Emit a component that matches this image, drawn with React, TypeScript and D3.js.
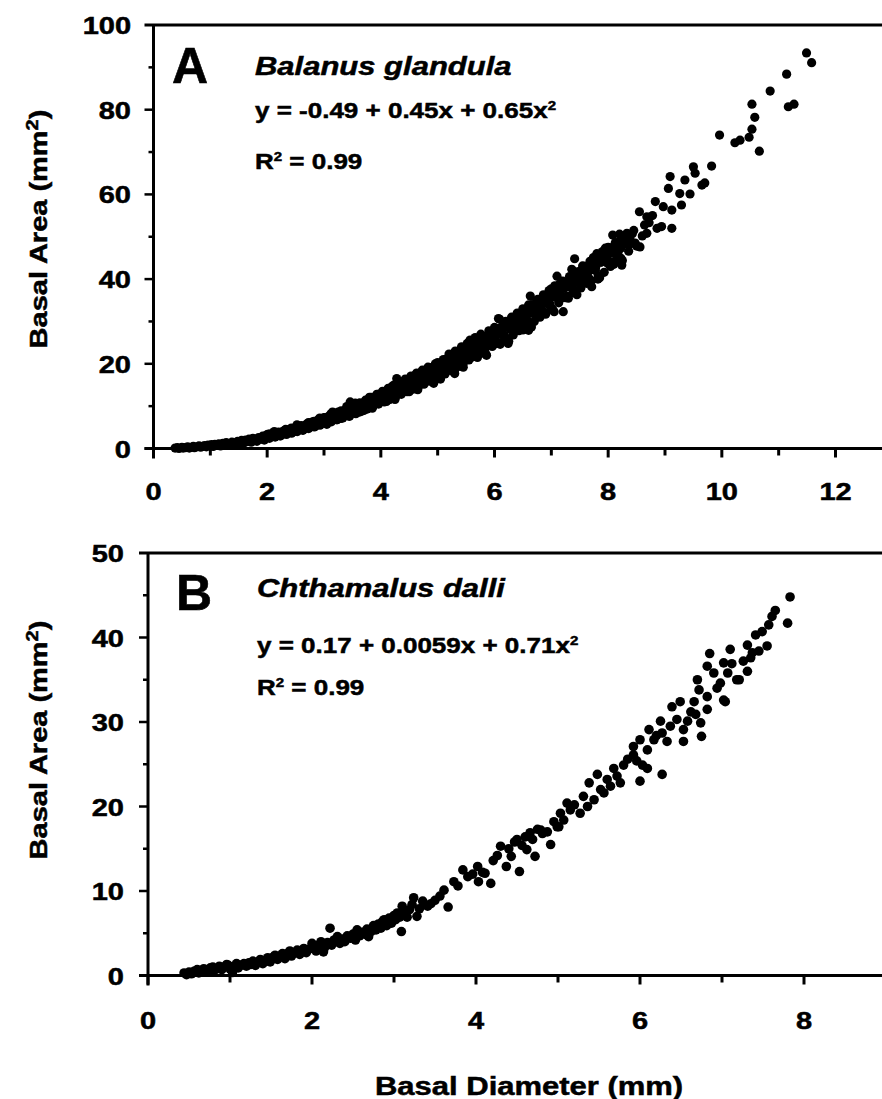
import React from 'react';
import * as d3 from 'd3';

// Balanus glandula: basal diameter (mm), basal area (mm2)
const balanusPoints: [number, number][] = [
  [0.38,0.1],[0.42,0.2],[0.45,0.0],[0.5,0.3],[0.52,0.1],[0.56,0.2],[0.6,0.4],[0.63,0.1],[0.66,0.3],[0.7,0.5],
  [0.72,0.2],[0.76,0.4],[0.8,0.6],[0.83,0.3],[0.86,0.5],[0.9,0.7],[0.93,0.4],[0.96,0.8],[1.0,0.6],[1.02,0.9],
  [1.05,0.5],[1.08,1.0],[1.12,0.8],[1.15,1.1],[1.18,0.6],[1.22,1.2],[1.25,0.9],[1.28,1.4],[1.32,1.1],[1.35,0.8],
  [1.38,1.5],[1.42,1.3],[1.45,1.0],[1.48,1.7],[1.52,1.4],[1.55,1.9],[1.58,1.2],[1.62,2.0],[1.65,1.6],[1.68,2.2],
  [1.72,1.5],[1.75,2.4],[1.78,2.0],[1.82,1.7],[1.85,2.6],[1.88,2.2],[1.92,2.9],[1.95,2.0],[1.98,2.6],[2.0,3.3],
  [2.04,2.4],[2.07,3.0],[2.1,3.6],[2.14,2.7],[2.17,3.3],[2.2,3.9],[2.24,3.0],[2.27,3.6],[2.3,4.2],[2.34,3.3],
  [2.37,4.0],[2.4,4.6],[2.43,3.6],[2.46,4.3],[2.5,5.0],[2.53,4.0],[2.56,4.7],[2.6,5.4],[2.63,4.3],[2.66,5.1],
  [2.7,5.8],[2.73,4.7],[2.76,5.5],[2.8,6.3],[2.83,5.1],[2.86,6.0],[2.9,6.8],[2.93,5.5],[2.96,6.4],[3.0,7.3],
  [3.03,5.9],[3.06,6.9],[3.1,7.8],[3.13,6.3],[3.16,7.3],[3.2,8.3],[3.23,6.8],[3.26,7.8],[3.3,8.9],[3.33,7.2],
  [3.36,8.4],[3.4,9.5],[3.43,7.7],[3.46,11.0],[3.5,9.0],[3.53,10.1],[3.56,8.2],[3.6,9.6],[3.63,10.8],[3.66,8.8],
  [3.7,10.2],[3.73,11.4],[3.76,9.3],[3.8,10.8],[3.83,12.1],[3.86,9.9],[3.9,11.4],[3.93,12.8],[3.96,10.5],[4.0,12.0],
  [4.03,13.5],[4.06,11.0],[4.1,12.6],[4.13,14.2],[4.16,11.6],[4.2,13.3],[4.23,15.0],[4.26,12.2],[4.28,16.5],[4.3,14.0],
  [4.33,15.7],[4.36,12.8],[4.4,14.6],[4.43,16.4],[4.46,13.4],[4.5,15.3],[4.53,17.1],[4.56,14.0],[4.6,16.0],[4.63,17.8],
  [4.66,14.6],[4.7,16.7],[4.73,18.5],[4.76,15.2],[4.8,17.4],[4.83,19.2],[4.86,15.9],[4.9,18.1],[4.93,15.4],[4.96,20.0],
  [5.0,18.0],[5.03,16.9],[5.06,19.5],[5.1,21.0],[5.13,17.6],[5.16,20.2],[5.2,22.3],[5.23,18.4],[5.26,21.0],[5.3,17.7],
  [5.31,23.0],[5.35,19.3],[5.38,21.9],[5.42,24.0],[5.45,20.1],[5.48,22.8],[5.52,24.8],[5.55,20.9],[5.57,25.6],[5.6,23.6],
  [5.63,21.7],[5.66,26.2],[5.7,24.4],[5.73,22.5],[5.76,27.0],[5.8,25.2],[5.83,23.3],[5.86,22.0],[5.9,27.8],[5.93,26.1],
  [5.96,24.1],[6.0,28.6],[6.03,26.9],[6.07,30.7],[6.09,30.5],[6.1,24.9],[6.13,27.8],[6.17,29.6],[6.2,25.8],[6.24,24.8],
  [6.27,28.7],[6.3,31.0],[6.33,26.8],[6.37,29.6],[6.4,32.0],[6.43,27.8],[6.47,30.5],[6.5,33.0],[6.53,28.8],[6.57,31.5],
  [6.6,27.9],[6.63,36.0],[6.66,34.0],[6.7,30.0],[6.73,32.6],[6.76,35.2],[6.8,31.0],[6.83,33.7],[6.86,36.3],[6.9,32.1],
  [6.93,34.8],[6.96,37.3],[7.0,33.2],[7.03,35.9],[7.06,38.4],[7.1,40.7],[7.13,34.4],[7.16,37.0],[7.2,39.5],[7.21,32.3],
  [7.25,35.6],[7.28,38.2],[7.32,40.6],[7.36,42.3],[7.38,36.8],[7.41,44.8],[7.44,39.4],[7.48,41.8],[7.52,37.9],[7.55,40.6],
  [7.58,43.0],[7.62,39.0],[7.65,41.7],[7.68,44.2],[7.71,38.2],[7.74,45.1],[7.78,42.8],[7.82,40.0],[7.86,44.0],[7.9,46.5],
  [7.93,41.6],[7.96,45.2],[8.0,47.5],[8.04,43.0],[8.08,50.4],[8.12,46.0],[8.15,48.4],[8.18,44.2],[8.22,47.3],[8.24,43.3],
  [8.28,49.5],[8.33,50.8],[8.36,46.6],[8.4,48.9],[8.45,51.5],[8.5,47.8],[8.55,55.9],[8.56,47.6],[8.6,50.2],[8.64,52.8],
  [8.68,54.7],[8.68,50.8],[8.72,53.3],[8.78,55.0],[8.83,58.3],[8.86,52.0],[8.94,52.4],[8.97,57.1],[9.06,61.4],[9.09,64.2],
  [9.12,56.3],[9.12,52.0],[9.26,60.2],[9.29,57.5],[9.35,63.4],[9.44,60.1],[9.5,66.5],[9.53,65.0],[9.65,62.2],[9.7,62.7],
  [9.82,66.7],[9.96,74.0],[10.23,72.2],[10.32,72.8],[10.48,73.5],[10.53,75.4],[10.53,81.3],[10.58,78.2],[10.66,70.2],[10.85,84.4],
  [11.14,88.4],[11.17,80.7],[11.27,81.3],[11.49,93.4],[11.58,91.1],
  [2.02,2.8],[2.12,3.2],[2.22,3.5],[2.32,3.8],[2.42,4.1],[2.52,4.5],[2.62,4.9],[2.72,5.3],[2.82,5.7],[2.92,6.2],
  [3.02,6.6],[3.12,7.1],[3.22,7.5],[3.32,8.0],[3.42,8.6],[3.52,9.2],[3.62,9.7],[3.72,10.4],[3.82,11.0],[3.92,11.6],
  [4.02,12.3],[4.08,12.9],[4.15,13.4],[4.22,13.9],[4.29,14.5],[4.35,15.0],[4.42,15.4],[4.48,16.1],[4.55,16.4],[4.62,17.1],
  [4.68,17.5],[4.75,18.0],[4.82,18.6],[4.88,19.1],[4.95,19.0],[5.02,19.7],[5.08,20.3],[5.15,20.8],[5.22,21.3],[5.28,22.0],
  [5.35,22.4],[5.42,22.1],[5.48,23.7],[5.55,23.4],[5.62,24.5],[5.68,25.0],[5.75,25.3],[5.82,26.3],[5.88,26.7],[5.95,27.3],
  [6.02,27.8],[6.08,28.4],[6.15,28.9],[6.22,29.8],[6.28,30.1],[6.35,30.9],[6.42,31.2],[6.48,32.2],[6.55,32.5],[6.62,33.4],
  [6.68,33.0],[6.75,34.7],[6.82,35.1],[6.88,35.6],[6.95,36.2],[7.02,36.9],[7.08,37.2],[7.15,38.2],[7.22,38.4],[7.3,39.5],
  [7.37,40.1],[7.45,41.0],[7.52,41.9],[7.6,42.2],[7.67,43.2],[7.75,43.6],[7.83,45.1],[7.92,44.4],[8.0,45.8],[8.1,47.6],
  [8.2,48.9],
  [2.05,3.4],[2.15,2.9],[2.25,3.8],[2.35,4.3],[2.45,3.9],[2.55,5.1],[2.65,4.6],[2.75,6.0],[2.85,5.3],[2.95,6.9],
  [3.05,5.7],[3.1,7.4],[3.15,8.6],[3.2,7.2],[3.25,8.6],[3.3,7.1],[3.35,8.3],[3.4,9.9],[3.45,7.6],[3.5,9.3],
  [3.55,10.7],[3.6,9.0],[3.65,10.6],[3.7,9.0],[3.75,10.3],[3.8,12.1],[3.85,9.5],[3.9,11.4],[3.95,12.8],[4.0,11.1],
  [4.05,13.0],[4.1,11.1],[4.15,12.6],[4.2,14.7],[4.25,11.6],[4.3,13.9],[4.35,15.4],[4.4,13.5],[4.45,15.4],[4.5,13.4],
  [4.55,15.0],[4.6,17.3],[4.65,13.9],[4.7,16.4],[4.75,18.1],[4.8,16.0],[4.85,18.1],[4.9,16.0],[4.95,17.7],[5.0,20.3],
  [5.05,16.4],[5.1,19.2],[5.15,21.1],[5.2,18.7],[5.25,21.1],[5.3,18.6],[5.35,20.5],[5.4,23.2],[5.45,19.2],[5.5,22.2],
  [5.55,24.2],[5.6,21.6],[5.65,24.2],[5.7,21.5],[5.75,23.6],[5.8,26.5],[5.85,22.2],[5.9,25.4],[5.95,27.4],[6.0,24.7],
  [6.05,27.5],[6.1,24.6],[6.15,26.8],[6.2,30.0],[6.25,25.3],[6.3,28.7],[6.35,31.0],[6.4,28.1],[6.45,31.0],[6.5,28.0],
  [6.55,30.4],[6.6,33.9],[6.65,28.7],[6.7,32.5],[6.75,34.9],[6.8,31.7],[6.85,34.9],[6.9,31.7],[6.95,34.1],[7.0,37.7],
  [7.05,32.3],[7.1,36.3],[7.15,38.9],[7.2,35.6],[7.25,38.9],[7.3,35.5],[7.35,38.1],[7.4,41.8],[7.45,36.3],[7.5,40.3],
  [7.55,43.1],[7.6,39.5],[7.65,43.0],[7.7,39.5],[7.75,42.2],[7.8,46.0],[7.85,40.3],[7.9,44.5],[7.95,47.3],[8.0,43.6],
  [8.05,47.4],[8.1,43.5],[8.15,46.5],[8.2,50.6],[8.25,44.4],[8.3,48.9],
  [2.025,3.4],[2.075,2.8],[2.125,4.0],[2.175,3.4],[2.225,3.0],[2.275,4.0],[2.325,4.5],[2.375,4.0],[2.425,4.8],[2.475,4.1],
  [2.525,5.6],[2.575,4.9],[2.625,4.4],[2.675,5.5],[2.725,6.1],[2.775,5.5],[2.825,6.4],[2.875,5.7],[2.925,7.2],[2.975,6.5],
  [3.025,7.3],[3.075,6.4],[3.125,8.2],[3.175,7.4],[3.225,6.8],[3.275,8.1],[3.325,8.8],[3.375,8.1],[3.425,9.1],[3.475,8.3],
  [3.525,10.1],[3.575,9.2],[3.625,8.6],[3.675,10.1],[3.725,10.9],[3.775,10.1],[3.825,11.2],[3.875,10.3],[3.925,12.3],[3.975,11.4],
  [4.025,12.5],[4.075,11.4],[4.125,13.6],[4.175,12.5],[4.225,11.8],[4.275,13.5],[4.325,14.4],[4.375,13.5],[4.425,14.9],[4.475,13.8],
  [4.525,16.3],[4.575,15.0],[4.625,14.1],[4.675,16.0],[4.725,17.1],[4.775,16.0],[4.825,17.5],[4.875,16.3],[4.925,18.9],[4.975,17.7],
  [5.025,16.6],[5.075,18.9],[5.125,19.9],[5.175,18.8],[5.225,20.4],[5.275,19.0],[5.325,21.9],[5.375,20.4],[5.425,19.5],[5.475,21.7],
  [5.525,22.9],[5.575,21.6],[5.625,23.4],[5.675,21.9],[5.725,25.1],[5.775,23.5],[5.825,22.5],[5.875,24.9],[5.925,26.1],[5.975,24.8],
  [6.025,26.7],[6.075,25.0],[6.125,28.4],[6.175,26.8],[6.225,25.7],[6.275,28.2],[6.325,29.6],[6.375,28.2],[6.425,30.2],[6.475,28.5],
  [6.525,32.2],[6.575,30.3],[6.625,29.1],[6.675,31.9],[6.725,33.3],[6.775,31.8],[6.825,34.0],[6.875,32.1],[6.925,35.9],[6.975,34.1],
  [7.025,32.8],[7.075,35.7],[7.125,37.3],[7.175,35.7],[7.225,37.9],[7.275,36.0],[7.325,40.0],[7.375,38.0],[7.425,36.8],[7.475,39.8],
  [7.525,41.4],[7.575,39.7],[7.625,42.0],[7.675,40.0],[7.725,44.2],[7.775,42.1],[7.825,40.8],[7.875,44.0],[7.925,45.6],[7.975,43.9],
  [8.025,46.4],[8.075,44.1],[8.125,48.6],[8.175,46.4],[8.225,44.9],[8.275,48.3],[8.325,50.0],[8.375,48.2],[8.425,50.7],[8.475,48.5],
];

// Chthamalus dalli: basal diameter (mm), basal area (mm2)
const chthamalusPoints: [number, number][] = [
  [0.44,0.3],[0.47,0.1],[0.5,0.4],[0.53,0.2],[0.56,0.5],[0.6,0.7],[0.62,0.3],[0.65,0.5],[0.68,0.8],[0.7,0.4],
  [0.73,0.6],[0.76,0.9],[0.79,1.0],[0.8,0.5],[0.84,0.8],[0.87,1.1],[0.9,0.7],[0.93,1.0],[0.96,1.3],[0.98,1.2],
  [1.0,0.8],[1.03,0.35],[1.05,1.1],[1.08,1.4],[1.1,0.9],[1.13,1.2],[1.17,1.4],[1.2,1.1],[1.23,1.5],[1.25,1.3],
  [1.28,1.7],[1.31,1.2],[1.34,1.6],[1.37,1.9],[1.4,1.4],[1.43,1.7],[1.46,2.1],[1.49,1.6],[1.53,2.2],[1.55,2.4],
  [1.58,1.9],[1.61,2.3],[1.64,2.6],[1.67,2.0],[1.7,2.6],[1.73,2.9],[1.75,2.3],[1.78,2.7],[1.82,3.0],[1.85,2.5],
  [1.87,2.8],[1.9,3.2],[1.93,2.7],[1.96,3.1],[2.0,3.8],[2.02,3.3],[2.05,2.9],[2.08,3.6],[2.11,4.0],[2.14,2.8],
  [2.16,3.4],[2.19,3.9],[2.22,5.6],[2.24,3.6],[2.27,4.2],[2.31,4.6],[2.34,3.8],[2.37,4.3],[2.4,4.0],[2.43,4.7],
  [2.47,4.4],[2.5,4.9],[2.53,4.2],[2.55,5.4],[2.58,4.7],[2.61,5.1],[2.64,4.9],[2.67,5.5],[2.69,4.6],[2.72,5.2],
  [2.75,5.9],[2.78,5.4],[2.81,6.1],[2.84,5.6],[2.86,6.4],[2.88,6.6],[2.91,5.9],[2.94,6.8],[2.97,6.2],[3.0,7.1],
  [3.02,6.6],[3.04,7.4],[3.07,6.9],[3.09,5.2],[3.1,8.2],[3.13,7.5],[3.16,6.9],[3.19,7.8],[3.22,8.4],[3.24,9.2],
  [3.28,7.0],[3.31,7.9],[3.35,8.8],[3.41,8.2],[3.45,8.5],[3.5,8.9],[3.56,9.4],[3.61,10.1],[3.66,8.1],[3.73,11.1],
  [3.78,10.6],[3.84,12.5],[3.9,11.7],[3.96,12.0],[4.02,12.9],[4.03,11.1],[4.08,12.2],[4.11,12.1],[4.18,10.9],[4.21,13.6],
  [4.26,14.2],[4.3,15.3],[4.37,12.9],[4.4,15.0],[4.43,14.1],[4.47,15.8],[4.5,16.1],[4.53,12.3],[4.56,15.4],[4.6,16.4],
  [4.62,14.9],[4.66,16.9],[4.69,16.1],[4.72,14.1],[4.75,17.3],[4.79,17.2],[4.81,16.8],[4.87,17.0],[4.91,15.5],[4.95,18.2],
  [4.99,17.6],[5.01,17.6],[5.03,19.2],[5.07,18.4],[5.11,20.4],[5.15,19.6],[5.2,20.2],[5.27,19.2],[5.31,21.2],[5.36,20.0],
  [5.38,22.8],[5.44,20.8],[5.48,23.8],[5.52,22.0],[5.56,21.6],[5.6,23.2],[5.64,22.4],[5.68,24.5],[5.72,23.6],[5.76,22.8],
  [5.8,24.9],[5.85,25.6],[5.92,27.1],[5.92,26.1],[5.96,25.4],[6.0,27.9],[6.0,23.0],[6.03,24.9],[6.09,26.7],[6.09,24.5],
  [6.11,29.1],[6.17,27.9],[6.2,28.4],[6.25,30.1],[6.27,28.7],[6.27,23.8],[6.33,27.7],[6.37,29.5],[6.39,31.8],[6.45,30.3],
  [6.49,32.4],[6.53,29.1],[6.53,27.7],[6.58,30.1],[6.62,31.2],[6.66,32.4],[6.68,30.9],[6.7,35.0],[6.72,33.8],[6.74,29.9],
  [6.75,28.3],[6.82,36.6],[6.82,33.0],[6.82,31.5],[6.85,38.1],[6.9,35.8],[6.94,34.0],[6.98,34.6],[7.02,37.0],[7.02,32.6],
  [7.04,32.4],[7.07,35.8],[7.1,38.6],[7.12,36.9],[7.18,35.0],[7.21,35.0],[7.26,37.2],[7.31,36.0],[7.31,39.1],[7.35,37.6],
  [7.37,38.2],[7.41,40.3],[7.45,38.4],[7.49,40.7],[7.55,39.0],[7.57,41.5],[7.61,42.5],[7.65,43.2],[7.8,41.7],[7.83,44.8],
];

const balanusXTicks = [0, 2, 4, 6, 8, 10, 12];
const balanusYTicks = [0, 20, 40, 60, 80, 100];
const chthamalusXTicks = [0, 2, 4, 6, 8];
const chthamalusYTicks = [0, 10, 20, 30, 40, 50];

const panelLetters = ['A', 'B'];
const speciesNames = ['Balanus glandula', 'Chthamalus dalli'];
const equationTexts = ['y = -0.49 + 0.45x + 0.65x', 'y = 0.17 + 0.0059x + 0.71x'];
const rSquaredText = ' = 0.99';
const yTitle = 'Basal Area (mm';
const xTitle = 'Basal Diameter (mm)';

const FONT = '"Liberation Sans", Arial, Helvetica, sans-serif';
const SQ = 0.82; // vertical squash of the scanned lettering
const INK = { fill: '#000', stroke: '#000', strokeWidth: 0.6 };

type PanelProps = {
  points: [number, number][];
  xTicks: number[];
  yTicks: number[];
  xMinorStep: number;
  yMinorStep: number;
  xRange: [number, number];
  yRange: [number, number];
  rightEdge: number;
  tickLabelX: number;
  xLabelY: number;
  yTitleX: number;
  yTitleMid: number;
  radius: number;
  idx: number;
  letterPos: [number, number];
  namePos: [number, number];
  eqY: number;
  r2Y: number;
};

function Panel(p: PanelProps) {
  const x = d3.scaleLinear().domain([p.xTicks[0], p.xTicks[p.xTicks.length - 1]]).range(p.xRange);
  const y = d3.scaleLinear().domain([p.yTicks[0], p.yTicks[p.yTicks.length - 1]]).range(p.yRange);
  const xMinor = d3.range(p.xTicks[0], x.invert(p.rightEdge), p.xMinorStep);
  const yMinor = d3.range(p.yTicks[0], p.yTicks[p.yTicks.length - 1], p.yMinorStep);
  const y0 = y(0);
  const yTop = y(p.yTicks[p.yTicks.length - 1]);
  const x0 = x(0);
  const sq = (tx: number, ty: number, s = SQ) => `translate(${tx},${ty}) scale(1,${s})`;

  return (
    <g>
      {/* dots */}
      {p.points.map((d, i) => (
        <circle key={i} cx={x(d[0])} cy={y(d[1])} r={p.radius} fill="#000" />
      ))}
      {/* frame */}
      <line x1={x0 - 9} x2={p.rightEdge} y1={yTop} y2={yTop} stroke="#000" strokeWidth={3} />
      <line x1={x0} x2={x0} y1={yTop} y2={y0 + 10} stroke="#000" strokeWidth={3} />
      <line x1={x0 - 9} x2={p.rightEdge} y1={y0} y2={y0} stroke="#000" strokeWidth={3} />
      {yMinor.map((v) => (
        <line key={'ym' + v} x1={x0 - (v % (p.yMinorStep * 2) === 0 ? 9 : 5)} x2={x0} y1={y(v)} y2={y(v)} stroke="#000" strokeWidth={2.5} />
      ))}
      {xMinor.map((v) => (
        <line key={'xm' + v} x1={x(v)} x2={x(v)} y1={y0} y2={y0 + (v % 2 === 0 ? 9 : 7)} stroke="#000" strokeWidth={3} />
      ))}
      {/* tick labels */}
      {p.yTicks.map((v) => (
        <text key={'yl' + v} transform={sq(p.tickLabelX, y(v) + 9)} textAnchor="end" fontSize={29} fontWeight="bold" fontFamily={FONT} {...INK}>
          {v}
        </text>
      ))}
      {p.xTicks.map((v) => (
        <text key={'xl' + v} transform={sq(x(v), p.xLabelY)} textAnchor="middle" fontSize={29} fontWeight="bold" fontFamily={FONT} {...INK}>
          {v}
        </text>
      ))}
      {/* y title */}
      <text transform={`translate(${p.yTitleX},${p.yTitleMid}) rotate(-90) scale(1,${SQ})`} textAnchor="middle" fontSize={29} fontWeight="bold" fontFamily={FONT} {...INK}>
        {yTitle}
        <tspan fontSize={20} dy={-11}>2</tspan>
        <tspan dy={11}>)</tspan>
      </text>
      {/* annotations */}
      <text x={p.letterPos[0]} y={p.letterPos[1]} fontSize={50} fontWeight="bold" fontFamily={FONT} {...INK}>
        {panelLetters[p.idx]}
      </text>
      <text transform={sq(p.namePos[0], p.namePos[1], 0.85)} fontSize={31} fontWeight="bold" fontStyle="italic" fontFamily={FONT} {...INK}>
        {speciesNames[p.idx]}
      </text>
      <text transform={sq(p.namePos[0], p.eqY, 0.82)} fontSize={26} fontWeight="bold" fontFamily={FONT} {...INK}>
        {equationTexts[p.idx]}
        <tspan fontSize={15} dy={-10}>2</tspan>
      </text>
      <text transform={sq(p.namePos[0], p.r2Y, 0.82)} fontSize={26} fontWeight="bold" fontFamily={FONT} {...INK}>
        R<tspan fontSize={15} dy={-10}>2</tspan>
        <tspan dy={10}>{rSquaredText}</tspan>
      </text>
    </g>
  );
}

export default function App() {
  return (
    <svg width={882} height={1099} style={{ position: 'absolute', left: 0, top: 0, background: '#fff' }}>
      <rect width={882} height={1099} fill="#fff" />
      <Panel
        points={balanusPoints}
        xTicks={balanusXTicks}
        yTicks={balanusYTicks}
        xMinorStep={1}
        yMinorStep={10}
        xRange={[153.5, 835.5]}
        yRange={[448.5, 25]}
        rightEdge={882}
        tickLabelX={131}
        xLabelY={500}
        yTitleX={47}
        yTitleMid={229}
        radius={4.6}
        idx={0}
        letterPos={[172, 83]}
        namePos={[255, 75]}
        eqY={118}
        r2Y={169}
      />
      <Panel
        points={chthamalusPoints}
        xTicks={chthamalusXTicks}
        yTicks={chthamalusYTicks}
        xMinorStep={1}
        yMinorStep={5}
        xRange={[148, 804]}
        yRange={[975.5, 553]}
        rightEdge={882}
        tickLabelX={124}
        xLabelY={1029}
        yTitleX={47}
        yTitleMid={740}
        radius={4.8}
        idx={1}
        letterPos={[176, 610]}
        namePos={[257, 597]}
        eqY={653}
        r2Y={695}
      />
      <text transform={`translate(375,1095) scale(1,${SQ})`} fontSize={31} fontWeight="bold" fontFamily={FONT} {...INK}>
        {xTitle}
      </text>
    </svg>
  );
}
